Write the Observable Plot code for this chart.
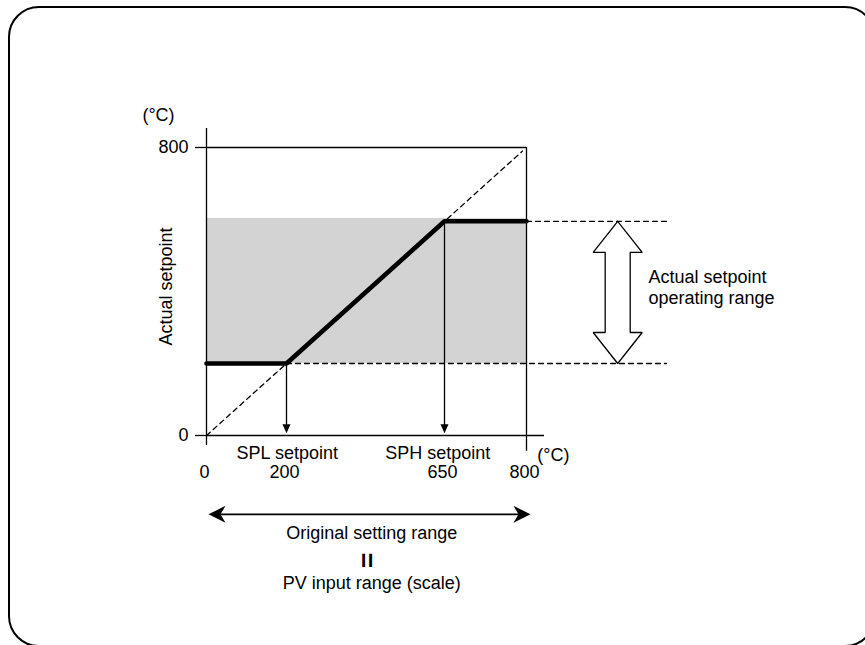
<!DOCTYPE html>
<html>
<head>
<meta charset="utf-8">
<script src="https://cdn.jsdelivr.net/npm/d3@7"></script>
<script src="https://cdn.jsdelivr.net/npm/@observablehq/plot@0.6"></script>
<style>
  html, body { margin: 0; padding: 0; background: #fff; width: 865px; height: 645px; overflow: hidden; }
  #frame { position: absolute; left: 8px; top: 6px; width: 868px; height: 641px; box-sizing: border-box;
           border: 2.5px solid #000; border-radius: 31px; pointer-events: none; }
  #chart { position: absolute; left: 0; top: 0; }
</style>
</head>
<body>
<div id="chart"></div>
<div id="frame"></div>
<script>
// ---- data (temperature, °C) ----
const axisDomain = [0, 800];
const yTickValues = [0, 800];
const xTickValues = [0, 200, 595, 800];          // positions on the drawing
const xTickLabels = ["0", "200", "650", "800"];  // printed values
const splPos = 200;     // SPL setpoint (drawn)
const sphPos = 595;     // SPH setpoint (drawn, labelled 650)
const limitedX = [0, 200, 595, 800];
const limitedY = [200, 200, 595, 595];
const bandLow = 200, bandHigh = 603;
const diagonalEnd = 790;

const limited = limitedX.map((x, i) => ({x, y: limitedY[i]}));
const tickLabel = new Map(xTickValues.map((v, i) => [v, xTickLabels[i]]));

// pixel -> data helpers for decorative shapes
const kx = 800 / 320, ky = 800 / 288;

// hollow double arrow (actual setpoint operating range)
const rangeArrowX = 1028;
function doubleArrow(cx, top, bot) {
  const hw = 24.5 * kx, sw = 12.5 * kx, hl = 31 * ky;
  const p = [
    [cx, top], [cx + hw, top - hl], [cx + sw, top - hl], [cx + sw, bot + hl], [cx + hw, bot + hl],
    [cx, bot], [cx - hw, bot + hl], [cx - sw, bot + hl], [cx - sw, top - hl], [cx - hw, top - hl], [cx, top]
  ];
  return p.map(([x, y]) => ({x, y}));
}

// arrowhead symbols (tip at origin)
const headDown = {draw(c) { c.moveTo(0, 0); c.lineTo(-4, -9); c.lineTo(4, -9); c.closePath(); }};
const headLeft = {draw(c) { c.moveTo(0, 0); c.lineTo(17, -8.5); c.lineTo(12, 0); c.lineTo(17, 8.5); c.closePath(); }};
const headRight = {draw(c) { c.moveTo(0, 0); c.lineTo(-17, -8.5); c.lineTo(-12, 0); c.lineTo(-17, 8.5); c.closePath(); }};

const thin = 1.3;
const font = "Liberation Sans, Arial, Helvetica, sans-serif";

const chart = Plot.plot({
  width: 865,
  height: 645,
  marginLeft: 206,
  marginRight: 339,
  marginTop: 147,
  marginBottom: 210,
  style: {fontSize: "18px", fontFamily: font, background: "transparent", color: "#000"},
  x: {domain: axisDomain},
  y: {domain: axisDomain},
  marks: [
    // shaded operating band
    Plot.rectY([{y1: bandLow, y2: bandHigh}], {x1: axisDomain[0], x2: axisDomain[1], y1: "y1", y2: "y2", fill: "#d3d3d3"}),
    // frame lines
    Plot.ruleX([0], {y1: -28, y2: 853, strokeWidth: thin}),
    Plot.ruleX([800], {y1: -44, y2: 800, strokeWidth: thin}),
    Plot.ruleY([800], {x1: 0, x2: 800, strokeWidth: thin}),
    Plot.ruleY([0], {x1: 0, x2: 845, strokeWidth: thin}),
    // axes
    Plot.axisY({ticks: yTickValues, tickSize: 11, tickPadding: 7, label: null, strokeWidth: thin}),
    Plot.axisX({ticks: xTickValues, tickFormat: d => tickLabel.get(d), tickSize: 0, tickPadding: 30, dx: -2, label: null}),
    // dashed diagonal
    Plot.line([{x: 0, y: 0}, {x: diagonalEnd, y: diagonalEnd}], {x: "x", y: "y", strokeWidth: thin, strokeDasharray: "5,4"}),
    // dashed range extension lines
    Plot.line([{x: 800, y: sphPos}, {x: 1160, y: sphPos}], {x: "x", y: "y", strokeWidth: thin, strokeDasharray: "5,4"}),
    Plot.line([{x: splPos, y: splPos}, {x: 1150, y: splPos}], {x: "x", y: "y", strokeWidth: thin, strokeDasharray: "5,4"}),
    // vertical arrows from the knees
    Plot.ruleX([splPos], {y1: splPos, y2: 14, strokeWidth: thin}),
    Plot.ruleX([sphPos], {y1: sphPos, y2: 14, strokeWidth: thin}),
    Plot.dot([splPos, sphPos], {x: d => d, y: () => 6, symbol: headDown, fill: "#000", stroke: "none"}),
    // limited setpoint line
    Plot.line(limited, {x: "x", y: "y", strokeWidth: 4.6, strokeLinejoin: "miter"}),
    // hollow double arrow
    Plot.line(doubleArrow(rangeArrowX, sphPos, splPos), {x: "x", y: "y", fill: "#fff", stroke: "#000", strokeWidth: thin, strokeLinejoin: "miter"}),
    // original setting range arrow
    Plot.ruleY([-219], {x1: 15, x2: 800, strokeWidth: 1.6}),
    Plot.dot([{x: 5, y: -219}], {x: "x", y: "y", symbol: headLeft, fill: "#000", stroke: "none"}),
    Plot.dot([{x: 810, y: -219}], {x: "x", y: "y", symbol: headRight, fill: "#000", stroke: "none"}),
    // texts
    Plot.text([{x: -120, y: 889, t: "(°C)"}], {x: "x", y: "y", text: "t"}),
    Plot.text([{x: -100, y: 414, t: "Actual setpoint"}], {x: "x", y: "y", text: "t", rotate: -90}),
    Plot.text([{x: 867, y: -56, t: "(°C)"}], {x: "x", y: "y", text: "t"}),
    Plot.text([{x: 202, y: -48, t: "SPL setpoint"}, {x: 578, y: -48, t: "SPH setpoint"}], {x: "x", y: "y", text: "t"}),
    Plot.text([{x: 1105, y: 414, t: "Actual setpoint\noperating range"}], {x: "x", y: "y", text: "t", textAnchor: "start", lineHeight: 1.22}),
    Plot.text([{x: 413, y: -272, t: "Original setting range"}], {x: "x", y: "y", text: "t"}),
    Plot.text([{x: 400, y: -347, t: "="}], {x: "x", y: "y", text: "t", rotate: 90, fontSize: 26, fontWeight: "bold"}),
    Plot.text([{x: 413, y: -411, t: "PV input range (scale)"}], {x: "x", y: "y", text: "t"})
  ]
});
document.getElementById("chart").append(chart);
</script>
</body>
</html>
